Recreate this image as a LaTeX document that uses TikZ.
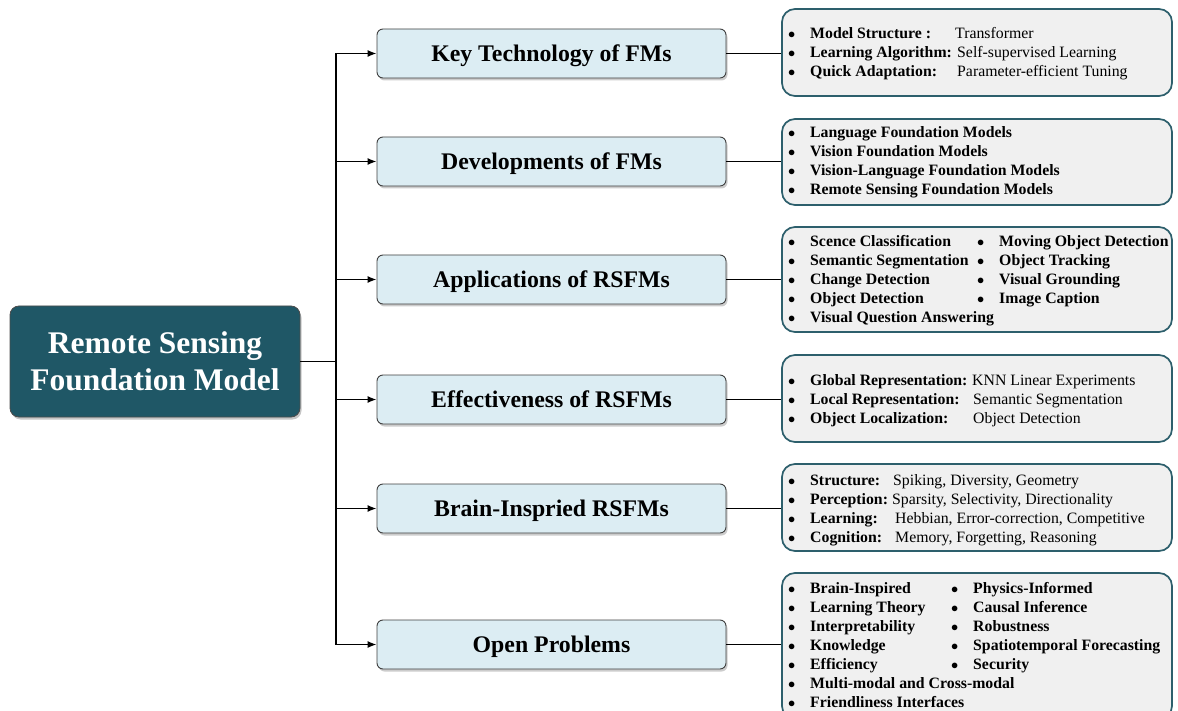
\documentclass[tikz,border=0pt]{standalone}
\usepackage{fontspec}
\setmainfont{Liberation Serif}
\usetikzlibrary{arrows.meta,shadows}

\definecolor{rootteal}{HTML}{1F5766}
\definecolor{topicblue}{HTML}{DCEDF3}
\definecolor{listgrey}{HTML}{F0F0F0}
\definecolor{listedge}{HTML}{2D5F6C}

\tikzset{
  rootbox/.style={draw=black!70, fill=rootteal, text=white, rounded corners=9pt,
    minimum width=290pt, minimum height=111pt, line width=0.8pt, align=center,
    font=\fontsize{31.5}{37}\selectfont\bfseries,
    drop shadow={shadow xshift=1.5pt, shadow yshift=-2.5pt, opacity=0.45}},
  topicbox/.style={draw=black!75, fill=topicblue, rounded corners=6pt,
    minimum width=349pt, minimum height=49pt, line width=0.9pt, text depth=0pt,
    font=\fontsize{23.8}{28}\selectfont\bfseries,
    drop shadow={shadow xshift=1.5pt, shadow yshift=-2.5pt, opacity=0.4}},
  listbox/.style={draw=listedge, fill=listgrey, rounded corners=13pt,
    minimum width=390pt, line width=1.7pt},
  item/.style={anchor=base west, inner sep=0pt, font=\fontsize{15.8}{19}\selectfont},
  link/.style={line width=1.4pt},
  branch/.style={line width=1.4pt, -{Latex[length=9pt,width=7pt]}},
}
\newcommand{\bul}[1]{\makebox[22pt][l]{$\bullet$}\textbf{#1}}

\begin{document}
\begin{tikzpicture}[x=1pt,y=-1pt]
\useasboundingbox (0,0) rectangle (1178,711);

% root and trunk
\node[rootbox] (root) at (155,361.5) {Remote Sensing\\Foundation Model};
\coordinate (trunk) at (336,361.5);

% topic boxes
\node[topicbox] (key) at (551.5,53.5) {Key Technology of FMs};
\node[topicbox] (dev) at (551.5,161.5) {Developments of FMs};
\node[topicbox] (app) at (551.5,279.5) {Applications of RSFMs};
\node[topicbox] (eff) at (551.5,399.5) {Effectiveness of RSFMs};
\node[topicbox] (brain) at (551.5,508.5) {Brain-Inspried RSFMs};
\node[topicbox] (open) at (551.5,644.5) {Open Problems};

% list boxes
\node[listbox, minimum height=87pt] (keyL) at (977,52.5) {};
\node[listbox, minimum height=86pt] (devL) at (977,162) {};
\node[listbox, minimum height=105pt] (appL) at (977,279.5) {};
\node[listbox, minimum height=87pt] (effL) at (977,398.5) {};
\node[listbox, minimum height=87pt] (brainL) at (977,507.5) {};
\node[listbox, minimum height=146pt] (openL) at (977,646) {};

% connectors
\draw[link] (root.east) -- (trunk);
\draw[link] (trunk |- key.west) -- (trunk |- open.west);
\draw[branch] (trunk |- key.west) -- (key.west);
\draw[branch] (trunk |- dev.west) -- (dev.west);
\draw[branch] (trunk |- app.west) -- (app.west);
\draw[branch] (trunk |- eff.west) -- (eff.west);
\draw[branch] (trunk |- brain.west) -- (brain.west);
\draw[branch] (trunk |- open.west) -- (open.west);
\draw[link] (key.east) -- (key.east -| keyL.west);
\draw[link] (dev.east) -- (dev.east -| devL.west);
\draw[link] (app.east) -- (app.east -| appL.west);
\draw[link] (eff.east) -- (eff.east -| effL.west);
\draw[link] (brain.east) -- (brain.east -| brainL.west);
\draw[link] (open.east) -- (open.east -| openL.west);

% key technology
\node[item] (k1) at (788,39) {\bul{Model Structure :}};
\node[item] (k1v) at (955,39) {Transformer};
\node[item] (k2) at (788,58) {\bul{Learning Algorithm:}};
\node[item] (k2v) at (957,58) {Self-supervised Learning};
\node[item] (k3) at (788,77) {\bul{Quick Adaptation:}};
\node[item] (k3v) at (957,77) {Parameter-efficient Tuning};

% developments
\node[item] (d1) at (788,138) {\bul{Language Foundation Models}};
\node[item] (d2) at (788,157) {\bul{Vision Foundation Models}};
\node[item] (d3) at (788,176) {\bul{Vision-Language Foundation Models}};
\node[item] (d4) at (788,195) {\bul{Remote Sensing Foundation Models}};

% applications
\node[item] (a1) at (788,247) {\bul{Scence Classification}};
\node[item] (a2) at (788,266) {\bul{Semantic Segmentation}};
\node[item] (a3) at (788,285) {\bul{Change Detection}};
\node[item] (a4) at (788,304) {\bul{Object Detection}};
\node[item] (a5) at (788,323) {\bul{Visual Question Answering}};
\node[item] (a6) at (977,247) {\bul{Moving Object Detection}};
\node[item] (a7) at (977,266) {\bul{Object Tracking}};
\node[item] (a8) at (977,285) {\bul{Visual Grounding}};
\node[item] (a9) at (977,304) {\bul{Image Caption}};

% effectiveness
\node[item] (e1) at (788,385) {\bul{Global Representation:}};
\node[item] (e1v) at (972,385) {KNN Linear Experiments};
\node[item] (e2) at (788,404) {\bul{Local Representation:}};
\node[item] (e2v) at (973,404) {Semantic Segmentation};
\node[item] (e3) at (788,423) {\bul{Object Localization:}};
\node[item] (e3v) at (973,423) {Object Detection};

% brain-inspired
\node[item] (b1) at (788,485) {\bul{Structure:}};
\node[item] (b1v) at (893,485) {Spiking, Diversity, Geometry};
\node[item] (b2) at (788,504) {\bul{Perception:}};
\node[item] (b2v) at (892,504) {Sparsity, Selectivity, Directionality};
\node[item] (b3) at (788,523) {\bul{Learning:}};
\node[item] (b3v) at (895,523) {Hebbian, Error-correction, Competitive};
\node[item] (b4) at (788,542) {\bul{Cognition:}};
\node[item] (b4v) at (895,542) {Memory, Forgetting, Reasoning};

% open problems
\node[item] (o1) at (788,593) {\bul{Brain-Inspired}};
\node[item] (o2) at (788,612) {\bul{Learning Theory}};
\node[item] (o3) at (788,631) {\bul{Interpretability}};
\node[item] (o4) at (788,650) {\bul{Knowledge}};
\node[item] (o5) at (788,669) {\bul{Efficiency}};
\node[item] (o6) at (788,688) {\bul{Multi-modal and Cross-modal}};
\node[item] (o7) at (788,707) {\bul{Friendliness Interfaces}};
\node[item] (o8) at (951,593) {\bul{Physics-Informed}};
\node[item] (o9) at (951,612) {\bul{Causal Inference}};
\node[item] (o10) at (951,631) {\bul{Robustness}};
\node[item] (o11) at (951,650) {\bul{Spatiotemporal Forecasting}};
\node[item] (o12) at (951,669) {\bul{Security}};
\end{tikzpicture}
\end{document}
